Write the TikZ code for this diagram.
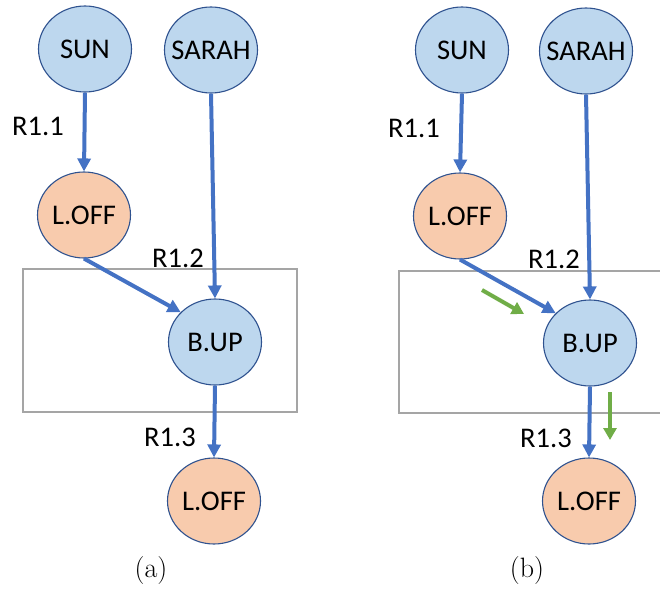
\documentclass[tikz,border=0pt]{standalone}
\usepackage{fontspec}
\setmainfont{Carlito}
\newfontfamily\lmfont{Latin Modern Roman}
\usetikzlibrary{shapes.geometric,arrows.meta}
\definecolor{nodeblue}{HTML}{BDD7EE}
\definecolor{nodeorange}{HTML}{F8CBAD}
\definecolor{nodeborder}{HTML}{2F528F}
\definecolor{arrowblue}{HTML}{4472C4}
\definecolor{arrowgreen}{HTML}{70AD47}
\definecolor{boxgray}{HTML}{A5A5A5}
\tikzset{
  state/.style={ellipse, draw=nodeborder, line width=1.1pt, minimum width=93pt, minimum height=86pt, inner xsep=-10pt, inner ysep=0pt, font=\fontsize{28.5}{31}\selectfont},
  bluestate/.style={state, fill=nodeblue},
  orangestate/.style={state, fill=nodeorange},
  link/.style={draw=arrowblue, line width=4pt, -{Triangle[length=13pt,width=13pt]}},
  hint/.style={draw=arrowgreen, line width=4pt, -{Triangle[length=12pt,width=13pt]}},
  frame/.style={draw=boxgray, line width=1.5pt},
  rlabel/.style={font=\fontsize{28.5}{31}\selectfont, inner sep=0pt},
  caption/.style={font=\lmfont\fontsize{28}{30}\selectfont, inner sep=0pt}
}
\begin{document}
\begin{tikzpicture}[x=1pt,y=-1pt]
\useasboundingbox (0,0) rectangle (660,588);
% panel (a)
\draw[frame] (23,269) rectangle (297,412);
\node[bluestate] (sunA) at (85,49) {SUN};
\node[bluestate] (sarahA) at (211,50) {SARAH};
\node[orangestate] (loffA) at (84,215) {L.OFF};
\node[bluestate] (bupA) at (215,342) {B.UP};
\node[orangestate] (loff2A) at (214,501) {L.OFF};
\draw[link] (sunA.south) -- (loffA.north);
\draw[link] (sarahA.south) -- (bupA.north);
\draw[link] (loffA.south) -- (bupA.139);
\draw[link] (bupA.south) -- (loff2A.north);
\node[rlabel] (r11A) at (38,126) {R1.1};
\node[rlabel] (r12A) at (178,258) {R1.2};
\node[rlabel] (r13A) at (170,437) {R1.3};
\node[caption] (capA) at (151,571) {(a)};
% panel (b)
\draw[frame] (399,271) rectangle (680,413);
\node[bluestate] (sunB) at (462,50) {SUN};
\node[bluestate] (sarahB) at (586,51) {SARAH};
\node[orangestate] (loffB) at (460,216) {L.OFF};
\node[bluestate] (bupB) at (590,343) {B.UP};
\node[orangestate] (loff2B) at (589,501) {L.OFF};
\draw[link] (sunB.south) -- (loffB.north);
\draw[link] (sarahB.south) -- (bupB.north);
\draw[link] (loffB.south) -- (bupB.139);
\draw[link] (bupB.south) -- (loff2B.north);
\node[rlabel] (r11B) at (414,128) {R1.1};
\node[rlabel] (r12B) at (554,259) {R1.2};
\node[rlabel] (r13B) at (546,438) {R1.3};
\node[caption] (capB) at (527,571) {(b)};
\coordinate (g1s) at (482,290);
\coordinate (g1e) at (524,314);
\coordinate (g2s) at (610,392);
\coordinate (g2e) at (610,440);
\draw[hint] (g1s) -- (g1e);
\draw[hint] (g2s) -- (g2e);
\end{tikzpicture}
\end{document}
